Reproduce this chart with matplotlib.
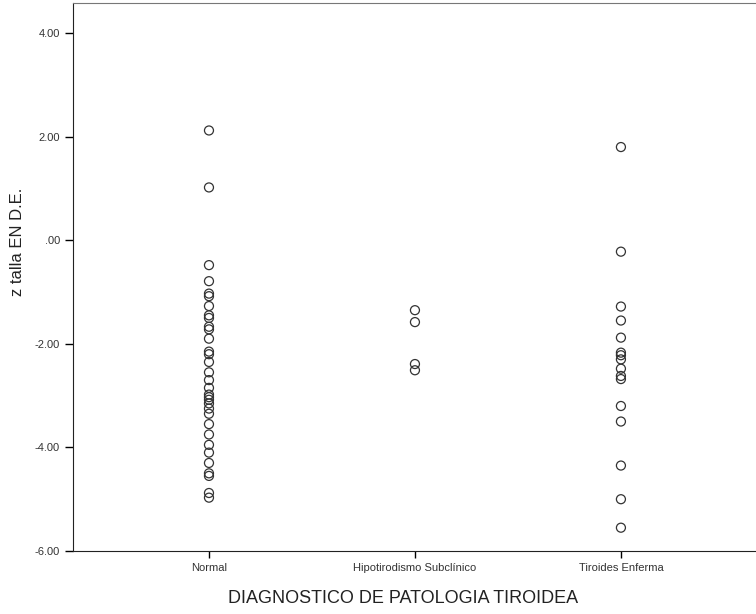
import matplotlib.pyplot as plt

plt.rcParams['font.family'] = ['Liberation Sans', 'DejaVu Sans']

categories = ["Normal", "Hipotirodismo Subclínico", "Tiroides Enferma"]
normal = [2.12, 1.02, -0.48, -0.79, -1.03, -1.08, -1.27, -1.45, -1.50, -1.67, -1.72,
          -1.90, -2.15, -2.20, -2.35, -2.55, -2.70, -2.85, -2.98, -3.03, -3.08, -3.15,
          -3.25, -3.35, -3.55, -3.75, -3.95, -4.10, -4.30, -4.50, -4.55, -4.88, -4.97]
hipo = [-1.35, -1.58, -2.39, -2.51]
tiroides = [1.80, -0.22, -1.28, -1.55, -1.88, -2.17, -2.22, -2.30, -2.48, -2.62,
            -2.68, -3.20, -3.50, -4.35, -5.00, -5.55]
yticks = [4, 2, 0, -2, -4, -6]
ytick_labels = ["4.00", "2.00", ".00", "-2.00", "-4.00", "-6.00"]

fig = plt.figure(figsize=(7.56, 6.14), dpi=100)
ax = fig.add_axes([0.0966, 0.1026, 0.91, 0.8924])

for i, vals in enumerate([normal, hipo, tiroides]):
    ax.scatter([i] * len(vals), vals, s=42, facecolors="none",
               edgecolors="#333333", linewidths=0.9)

ax.set_xlim(-0.66, 2.68)
ax.set_ylim(-6, 4.58)
ax.set_xticks(range(3))
ax.set_xticklabels(categories, fontsize=8, color="#333333")
ax.set_yticks(yticks)
ax.set_yticklabels(ytick_labels, fontsize=8, color="#333333")
ax.tick_params(axis="y", length=6, width=1)
ax.tick_params(axis="x", length=5, width=1)
for s in ["left", "bottom"]:
    ax.spines[s].set_color("#222222")
ax.spines["right"].set_visible(False)
ax.spines["top"].set_color("#777777")

ax.set_xlabel("DIAGNOSTICO DE PATOLOGIA TIROIDEA", fontsize=13, color="#222222")
ax.set_ylabel("z talla EN D.E.", fontsize=12, color="#222222")
ax.xaxis.set_label_coords(0.48, -0.072)
ax.yaxis.set_label_coords(-0.07, 0.564)

fig.savefig("out.png", dpi=100)
